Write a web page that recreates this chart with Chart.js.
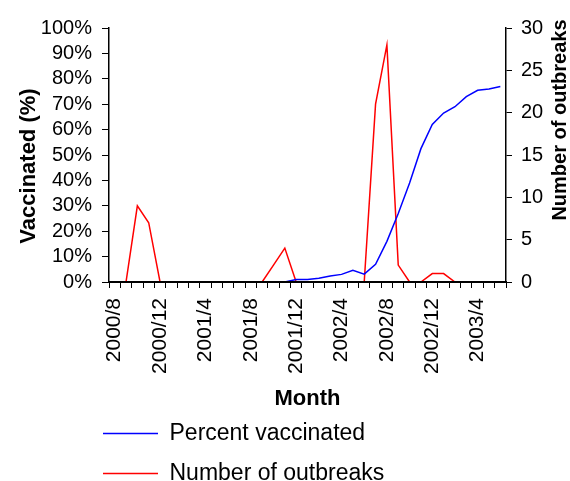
<!DOCTYPE html>
<html>
<head>
<meta charset="utf-8">
<script src="https://cdn.jsdelivr.net/npm/chart.js@4/dist/chart.umd.min.js"></script>
<style>
    body { margin: 0; background: #fff; }
    canvas { display: block; }
</style>
</head>
<body>
<canvas id="vacc-chart" width="570" height="481"></canvas>
<script>
// monthly categories, 2000/8 .. 2003/6
const months = [
    '2000/8', '2000/9', '2000/10', '2000/11', '2000/12',
    '2001/1', '2001/2', '2001/3', '2001/4', '2001/5', '2001/6', '2001/7', '2001/8', '2001/9', '2001/10', '2001/11', '2001/12',
    '2002/1', '2002/2', '2002/3', '2002/4', '2002/5', '2002/6', '2002/7', '2002/8', '2002/9', '2002/10', '2002/11', '2002/12',
    '2003/1', '2003/2', '2003/3', '2003/4', '2003/5', '2003/6'
];
// percent vaccinated (left axis)
const percentVaccinated = [
    null, null, null, null, null,
    null, null, null, null, null, null, null, null, null, null, 0, 1,
    1, 1.5, 2.4, 3, 4.6, 3.1, 7, 16, 27, 39, 52.5, 62,
    66.5, 69, 73, 75.5, 76, 77
];
// number of outbreaks (right axis)
const outbreaks = [
    null, 0, 9, 7, 0,
    0, 0, 0, 0, 0, 0, 0, 0, 0, 2, 4, 0,
    0, 0, 0, 0, 0, 0, 21, 28, 2, 0, 0, 1,
    1, 0, null, null, null, null
];
const labelEvery = 4;

const FONT = 'Arial, "Liberation Sans", sans-serif';

// excel style: legend rows stacked at the left, y titles both read bottom-up
const excelBits = {
    id: 'excelBits',
    afterLayout(chart) {
        chart.legend.left = 86;
        chart.legend.top = 405;
    },
    afterDraw(chart) {
        const ctx = chart.ctx;
        ctx.save();
        ctx.fillStyle = '#000';
        ctx.textAlign = 'center';
        ctx.textBaseline = 'middle';
        [['Vaccinated (%)', 29, 166, 22], ['Number of outbreaks', 560, 120, 20]].forEach(([t, x, y, size]) => {
            ctx.save();
            ctx.font = 'bold ' + size + 'px ' + FONT;
            ctx.translate(x, y);
            ctx.rotate(-Math.PI / 2);
            ctx.fillText(t, 0, 0);
            ctx.restore();
        });
        ctx.restore();
    }
};

const vaccData = {
    labels: months,
    datasets: [
        {
            label: 'Percent vaccinated',
            data: percentVaccinated,
            borderColor: '#0000ff',
            backgroundColor: '#0000ff',
            borderWidth: 1.5,
            pointRadius: 0,
            tension: 0,
            yAxisID: 'y'
        },
        {
            label: 'Number of outbreaks',
            data: outbreaks,
            borderColor: '#ff0000',
            backgroundColor: '#ff0000',
            borderWidth: 1.5,
            pointRadius: 0,
            tension: 0,
            yAxisID: 'y1'
        }
    ]
};

const vaccConfig = {
    type: 'line',
    data: vaccData,
    options: {
        responsive: false,
        animation: false,
        layout: { padding: { top: 28, left: 0, right: 0, bottom: 0 } },
        plugins: {
            tooltip: { enabled: false },
            legend: {
                position: 'bottom',
                align: 'start',
                maxHeight: 40,
                labels: {
                    boxWidth: 55,
                    boxHeight: 0,
                    padding: 17,
                    color: '#000',
                    font: { size: 23, family: FONT }
                }
            }
        },
        scales: {
            x: {
                offset: true,
                grid: { offset: true, drawOnChartArea: false, tickLength: 6, tickColor: '#000' },
                // axis sits on top of the zero stretches of the red line
                border: { color: '#000', width: 2, z: 1 },
                ticks: {
                    autoSkip: false,
                    maxRotation: 90,
                    minRotation: 90,
                    padding: 10,
                    color: '#000',
                    font: { size: 21, family: FONT },
                    callback: (v, i) => i % labelEvery === 0 ? months[i] : ''
                },
                title: {
                    display: true,
                    text: 'Month',
                    color: '#000',
                    font: { size: 22, weight: 'bold', family: FONT },
                    padding: { top: 0, bottom: 29 }
                },
                afterFit: s => { s.height = 159; }
            },
            y: {
                position: 'left',
                min: 0,
                max: 100,
                grid: { drawOnChartArea: false, tickLength: 7, tickColor: '#000' },
                border: { color: '#000', width: 1.5 },
                ticks: {
                    stepSize: 10,
                    autoSkip: false,
                    padding: 10,
                    color: '#000',
                    font: { size: 20, family: FONT },
                    callback: v => v + '%'
                },
                afterFit: s => { s.width = 109; }
            },
            y1: {
                position: 'right',
                min: 0,
                max: 30,
                grid: { drawOnChartArea: false, tickLength: 6, tickColor: '#000' },
                border: { color: '#000', width: 1.5 },
                ticks: {
                    stepSize: 5,
                    autoSkip: false,
                    padding: 9,
                    color: '#000',
                    font: { size: 20, family: FONT }
                },
                afterFit: s => { s.width = 64; }
            }
        }
    },
    plugins: [excelBits]
};

const vaccChart = new Chart(
    document.getElementById('vacc-chart'),
    vaccConfig
);
</script>
</body>
</html>
